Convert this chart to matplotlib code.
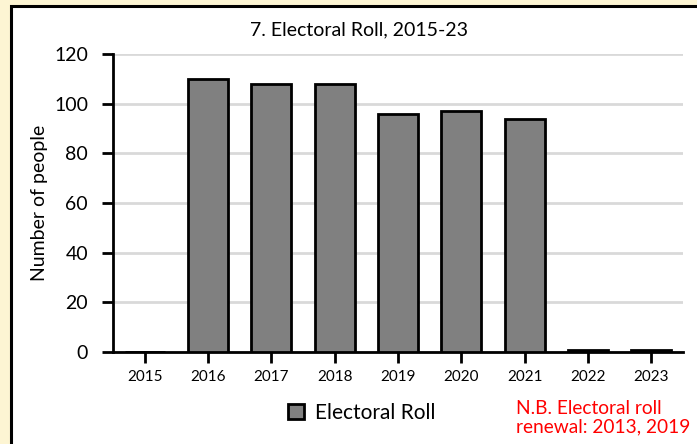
import matplotlib
matplotlib.use("Agg")
import matplotlib.pyplot as plt
from matplotlib.patches import Rectangle

years = ["2015", "2016", "2017", "2018", "2019", "2020", "2021", "2022", "2023"]
electoral_roll = [0, 110, 108, 108, 96, 97, 94, 1, 1]
yticks = [0, 20, 40, 60, 80, 100, 120]

plt.rcParams['font.family'] = ['Lato', 'DejaVu Sans']

W, H = 697, 444
fig = plt.figure(figsize=(W / 100, H / 100), dpi=100)
fig.patch.set_facecolor('#fdf5d3')

# white chart area, black border only shows on left/top
fig.patches.append(Rectangle((11 / W, -0.1), 1.2, 1.1 - 6 / H, transform=fig.transFigure,
                             facecolor='white', edgecolor='black', linewidth=2.2, zorder=-5))

ax = fig.add_axes([113 / W, (H - 352) / H, (683 - 113) / W, (352 - 54) / H])
ax.set_facecolor('white')
x = range(len(years))
ax.bar(x, electoral_roll, width=0.63, color='#808080', edgecolor='black', linewidth=2,
       label='Electoral Roll', zorder=3)
ax.set_xlim(-0.5, len(years) - 0.5)
ax.set_ylim(0, 120)
ax.set_yticks(yticks)
ax.set_xticks(list(x))
ax.set_xticklabels(years, fontsize=11)
ax.tick_params(axis='y', labelsize=14, length=8, width=2, pad=10)
ax.tick_params(axis='x', length=8, width=2, pad=5)
ax.yaxis.grid(True, color='#d9d9d9', linewidth=2)
ax.set_axisbelow(True)
for s in ['top', 'right']:
    ax.spines[s].set_visible(False)
ax.spines['left'].set_linewidth(2)
ax.spines['bottom'].set_linewidth(2)
ax.set_ylabel('Number of people', fontsize=14, labelpad=4)

fig.text(359 / W, 1 - 30 / H, '7. Electoral Roll, 2015-23', ha='center', va='center', fontsize=14)

ax.legend(loc='center', bbox_to_anchor=(362 / W, 1 - 413 / H), bbox_transform=fig.transFigure,
          frameon=False, fontsize=15, handlelength=0.75, handleheight=0.75, handletextpad=0.55)

fig.text(516 / W, 1 - 418 / H, 'N.B. Electoral roll\nrenewal: 2013, 2019', color='red',
         ha='left', va='center', fontsize=13.8, linespacing=1.1)

fig.savefig('out.png', dpi=100, facecolor=fig.get_facecolor())
